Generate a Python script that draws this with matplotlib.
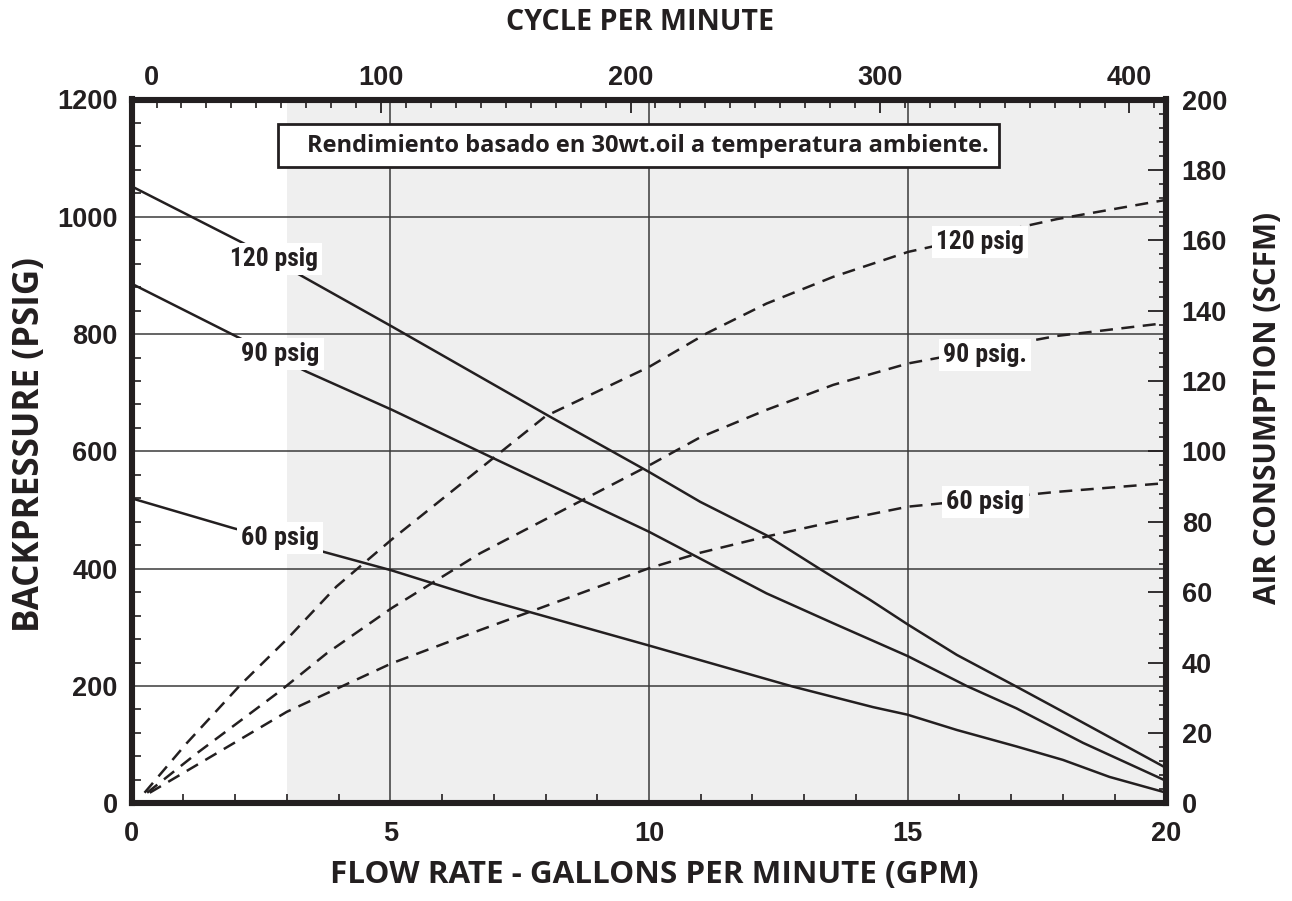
import matplotlib
matplotlib.use("Agg")
import matplotlib.pyplot as plt
from matplotlib.ticker import FixedLocator, MultipleLocator
from matplotlib.patches import Rectangle
from matplotlib.transforms import ScaledTranslation
from matplotlib import font_manager

# ---------------- data ----------------
# Backpressure (psig) vs flow (GPM), solid curves
gpm_120 = [0, 2.16, 3.19, 5.03, 8.09, 10.0, 10.99, 12.27, 13.24, 13.55, 14.27, 15.0, 15.95, 17.1, 17.94, 20.0]
bp_120 = [1052, 955, 904, 813, 659, 565, 514, 457, 403, 386, 347, 305, 253, 199, 159, 60]

gpm_90 = [0, 2.16, 3.38, 5.03, 6.93, 10.0, 12.27, 13.56, 15.0, 16.14, 17.1, 18.39, 20.0]
bp_90 = [886, 790, 736, 671, 591, 463, 358, 307, 251, 200, 162, 103, 38]

gpm_60 = [0, 1.97, 3.7, 5.03, 6.73, 10.0, 12.78, 14.33, 15.0, 15.95, 17.1, 18.0, 18.9, 20.0]
bp_60 = [520, 469, 429, 397, 350, 269, 199, 164, 151, 125, 97, 74, 45, 18]

# Air consumption (SCFM) vs flow (GPM), dashed curves
air_gpm_120 = [0.25, 1.06, 2.1, 3.0, 3.96, 5.03, 6.54, 8.0, 10.0, 11.12, 12.27, 13.56, 15.01, 17.88, 20.0]
air_120 = [3.0, 17.0, 33.6, 46.6, 61.6, 75.0, 92.8, 110, 124, 133.6, 142, 149.6, 156.7, 166, 171.5]

air_gpm_90 = [0.3, 1.26, 2.87, 3.77, 5.03, 6.73, 10.0, 10.99, 12.27, 13.56, 15.01, 17.88, 20.0]
air_90 = [3.0, 14.2, 31.9, 42.6, 55.5, 71.0, 96.0, 104.0, 111.8, 118.9, 125.0, 132.8, 136.5]

air_gpm_60 = [0.35, 1.32, 3.0, 5.03, 6.73, 10.0, 10.99, 12.27, 13.56, 15.01, 17.88, 20.0]
air_60 = [3.0, 11.4, 26.0, 39.8, 49.2, 66.8, 71.2, 75.8, 80.0, 84.3, 88.5, 91.0]

curve_labels = ["120 psig", "90 psig", "60 psig"]
air_labels = ["120 psig", "90 psig.", "60 psig"]
note = "Rendimiento basado en 30wt.oil a temperatura ambiente."

x_ticks = [0, 5, 10, 15, 20]
cpm_ticks = [0, 100, 200, 300, 400]
cpm_per_gpm = 20.74        # cycles per minute per GPM (top scale)
shade_from = 3.0           # GPM where grey region begins

INK = "#231f20"
GRID = "#3a3a3a"
TITLE_FONT = ["Open Sans", "DejaVu Sans"]
NUM_FONT = ["Liberation Sans", "DejaVu Sans"]

# pick a condensed bold face if one is installed
_fl = font_manager.fontManager.ttflist
_names = {f.name for f in _fl}
NARROW_FONT, NARROW_STRETCH = ["Liberation Sans", "DejaVu Sans"], "normal"
for nm in ["Liberation Sans Narrow", "Roboto Condensed", "Arial Narrow", "Open Sans Condensed"]:
    if nm in _names:
        NARROW_FONT, NARROW_STRETCH = [nm, "DejaVu Sans"], "normal"
        break
else:
    for f in _fl:
        if f.name in ("DejaVu Sans", "Roboto", "Open Sans", "Noto Sans") and \
                str(f.stretch) in ("condensed", "semi-condensed", "500", "700"):
            NARROW_FONT, NARROW_STRETCH = [f.name, "DejaVu Sans"], "condensed"
            break

plt.rcParams["font.family"] = NUM_FONT
plt.rcParams["font.weight"] = "bold"

W, H = 1292, 901
fig = plt.figure(figsize=(W / 100, H / 100), dpi=100)
L, R, T, B = 131.6, 1166.4, 99.5, 803.3
ax = fig.add_axes([L / W, 1 - B / H, (R - L) / W, (B - T) / H])
ax.set_xlim(0, 20)
ax.set_ylim(0, 1200)

ax.axvspan(shade_from, 20, color="#efefef", lw=0, zorder=0)

# grid / ticks of main axis
ax.set_xticks(x_ticks)
ax.xaxis.set_minor_locator(MultipleLocator(1))
ax.yaxis.set_major_locator(MultipleLocator(200))
ax.yaxis.set_minor_locator(MultipleLocator(40))
ax.grid(True, which="major", color=GRID, lw=1.1, zorder=1)
ax.set_axisbelow(True)
ax.tick_params(which="major", length=0, labelsize=19.5, colors=INK)
ax.tick_params(axis="x", which="major", pad=13)
ax.tick_params(axis="y", which="major", pad=10)
ax.tick_params(which="minor", direction="in", length=6.5, width=1.2, color=INK)
ax.tick_params(top=False, right=False, which="both")
for s in ax.spines.values():
    s.set_linewidth(4.4)
    s.set_color(INK)
    s.set_capstyle("projecting")

# solid backpressure curves
for xs, ys in [(gpm_120, bp_120), (gpm_90, bp_90), (gpm_60, bp_60)]:
    ax.plot(xs, ys, color=INK, lw=1.8, zorder=3, solid_joinstyle="round")

lab_box = dict(boxstyle="square,pad=0.16", fc="white", ec="none")
label_texts = []
solid_label_pos = [(2.76, 928), (2.87, 766), (2.87, 452)]
for (lx, ly), txt in zip(solid_label_pos, curve_labels):
    label_texts.append(ax.text(lx, ly, txt, ha="center", va="center", fontsize=21.5,
                               family=NARROW_FONT, fontstretch=NARROW_STRETCH,
                               fontweight="bold", color=INK, bbox=lab_box, zorder=5))

# right axis: air consumption
ax2 = ax.twinx()
ax2.set_ylim(0, 200)
ax2.yaxis.set_major_locator(MultipleLocator(20))
ax2.yaxis.set_minor_locator(MultipleLocator(4))
ax2.tick_params(which="major", direction="in", length=13, width=1.3, color=INK,
                labelsize=19.5, labelcolor=INK, pad=11)
ax2.tick_params(which="minor", direction="in", length=4.8, width=1.2, color=INK)
for s in ax2.spines.values():
    s.set_visible(False)

for xs, ys in [(air_gpm_120, air_120), (air_gpm_90, air_90), (air_gpm_60, air_60)]:
    ax2.plot(xs, ys, color=INK, lw=1.8, ls=(0, (5.2, 3.4)), zorder=3)

air_label_pos = [(16.4, 159.5), (16.5, 127.4), (16.5, 85.6)]
for (lx, ly), txt in zip(air_label_pos, air_labels):
    label_texts.append(ax2.text(lx, ly, txt, ha="center", va="center", fontsize=21.5,
                                family=NARROW_FONT, fontstretch=NARROW_STRETCH,
                                fontweight="bold", color=INK, bbox=lab_box, zorder=5))
label_widths = [88, 78, 78, 88, 84, 78]

# top axis: cycles per minute
ax3 = ax.secondary_xaxis("top", functions=(lambda g: g * cpm_per_gpm,
                                           lambda c: c / cpm_per_gpm))
ax3.xaxis.set_major_locator(FixedLocator(cpm_ticks))
ax3.xaxis.set_minor_locator(FixedLocator(list(range(0, 415, 10))))
ax3.tick_params(which="major", direction="in", length=10, width=1.3, color=INK,
                labelsize=19.5, labelcolor=INK, pad=6)
ax3.tick_params(which="minor", direction="in", length=6.5, width=1.2, color=INK)
ax3.spines["top"].set_visible(False)

# note box
fig.add_artist(Rectangle((278 / W, 1 - 167 / H), (999 - 278) / W, (167 - 124) / H,
                         transform=fig.transFigure, fc="white", ec=INK, lw=2.0, zorder=6))
t_note = fig.text(307 / W, 1 - 146 / H, note, ha="left", va="center", fontsize=18,
                  family=TITLE_FONT, fontweight="bold", color=INK, zorder=7)

t_x = fig.text(654 / W, 1 - 875 / H, "FLOW RATE - GALLONS PER MINUTE (GPM)", ha="center",
               va="center", fontsize=20, family=TITLE_FONT, fontweight="bold", color=INK)
t_top = fig.text(640 / W, 1 - 22 / H, "CYCLE PER MINUTE", ha="center", va="center",
                 fontsize=20, family=TITLE_FONT, fontweight="bold", color=INK)
t_l = fig.text(30 / W, 1 - 445 / H, "BACKPRESSURE (PSIG)", ha="center", va="center",
               rotation=90, fontsize=20, family=TITLE_FONT, fontweight="bold", color=INK)
t_r = fig.text(1268 / W, 1 - 408 / H, "AIR CONSUMPTION (SCFM)", ha="center", va="center",
               rotation=90, fontsize=20, family=TITLE_FONT, fontweight="bold", color=INK)

fig.canvas.draw()
rend = fig.canvas.get_renderer()
for t, target, vert in [(t_note, 683, False), (t_x, 648, False), (t_top, 268, False),
                        (t_l, 375, True), (t_r, 393, True)]:
    bb = t.get_window_extent(rend)
    size = bb.height if vert else bb.width
    t.set_fontsize(t.get_fontsize() * target / size)
# curve labels: only shrink if the available face is wider than the original
for t, target in zip(label_texts, label_widths):
    w = t.get_window_extent(rend).width
    if w > target * 1.04:
        t.set_fontsize(t.get_fontsize() * target / w)

# shift the top "0" label slightly right as in the original
fig.canvas.draw()
for tk in ax3.xaxis.get_major_ticks():
    if abs(tk.get_loc()) < 1e-9:
        tk.label2.set_transform(tk.label2.get_transform() +
                                ScaledTranslation(0.2, 0, fig.dpi_scale_trans))

fig.savefig("out.png", dpi=100)
